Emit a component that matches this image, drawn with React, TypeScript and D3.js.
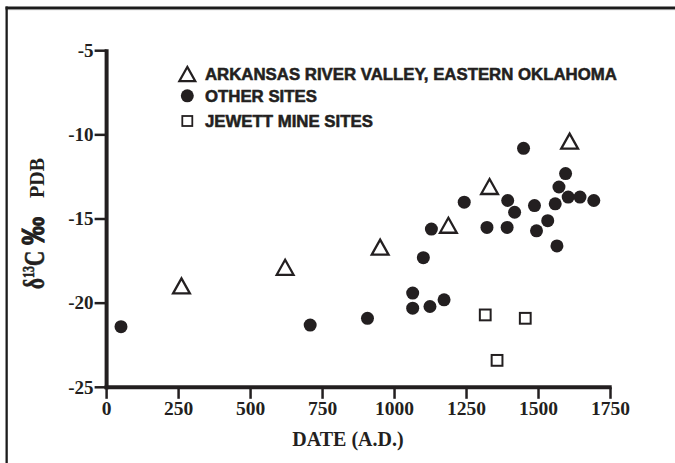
import { useRef, useEffect } from "react";
import * as d3 from "d3";

// Arkansas River Valley, Eastern Oklahoma (open triangles)
const arkansasDates = [260, 620, 950, 1187, 1330, 1608];
const arkansasValues = [-19.0, -17.9, -16.7, -15.4, -13.1, -10.4];

// Other sites (filled circles)
const otherDates = [
  50, 707, 906, 1063, 1063, 1123, 1172, 1100, 1128, 1242, 1321, 1391, 1393,
  1417, 1448, 1486, 1493, 1532, 1558, 1564, 1571, 1594, 1603, 1644, 1692,
];
const otherValues = [
  -21.4, -21.3, -20.9, -19.4, -20.3, -20.2, -19.8, -17.3, -15.6, -14.0, -15.5,
  -15.5, -13.9, -14.6, -10.8, -14.2, -15.7, -15.1, -14.1, -16.6, -13.1, -12.3,
  -13.7, -13.7, -13.9,
];

// Jewett Mine sites (open squares)
const jewettDates = [1315, 1356, 1454];
const jewettValues = [-20.7, -23.4, -20.9];

const xTicks = [0, 250, 500, 750, 1000, 1250, 1500, 1750];
const yTicks = [-5, -10, -15, -20, -25];

const legendLabels = [
  "ARKANSAS RIVER VALLEY, EASTERN OKLAHOMA",
  "OTHER SITES",
  "JEWETT MINE SITES",
];

export default function App() {
  const svgRef = useRef<SVGSVGElement | null>(null);

  useEffect(() => {
    const svg = d3.select(svgRef.current);
    svg.selectAll("*").remove();

    const width = 675;
    const height = 463;
    const ink = "#231f20";
    const serif = "'Liberation Serif', 'Times New Roman', serif";
    const sans = "'Liberation Sans', Arial, sans-serif";

    svg.attr("width", width).attr("height", height);

    const x = d3.scaleLinear().domain([0, 1750]).range([106.6, 610.5]);
    const y = d3.scaleLinear().domain([-25, -5]).range([387.3, 50.7]);

    // frame (top and left only)
    svg.append("rect").attr("x", 5.5).attr("y", 6.5).attr("width", width - 5.5).attr("height", 2.6).attr("fill", "#1c1c1c");
    svg.append("rect").attr("x", 5.5).attr("y", 9.1).attr("width", width - 5.5).attr("height", 1).attr("fill", "#8a8a8a");
    svg.append("rect").attr("x", 5.5).attr("y", 6.5).attr("width", 2.3).attr("height", height).attr("fill", "#1c1c1c");

    const triPath = (cx: number, cy: number, s = 1) =>
      `M${cx},${cy - 8 * s}L${cx + 8.4 * s},${cy + 7 * s}L${cx - 8.4 * s},${cy + 7 * s}Z`;

    // axes
    const axes = svg.append("g");
    axes
      .append("line")
      .attr("x1", x(0))
      .attr("x2", x(0))
      .attr("y1", y(-5) - 1.5)
      .attr("y2", y(-25) + 2)
      .attr("stroke", ink)
      .attr("stroke-width", 4);
    axes
      .append("line")
      .attr("x1", x(0) - 2)
      .attr("x2", x(1750) + 1.2)
      .attr("y1", y(-25))
      .attr("y2", y(-25))
      .attr("stroke", ink)
      .attr("stroke-width", 4);

    axes
      .selectAll(".ytick")
      .data(yTicks)
      .join("line")
      .attr("x1", x(0) - 12)
      .attr("x2", x(0))
      .attr("y1", (d) => y(d))
      .attr("y2", (d) => y(d))
      .attr("stroke", ink)
      .attr("stroke-width", 2.5);

    axes
      .selectAll(".xtick")
      .data(xTicks)
      .join("line")
      .attr("x1", (d) => x(d))
      .attr("x2", (d) => x(d))
      .attr("y1", y(-25))
      .attr("y2", y(-25) + 11.5)
      .attr("stroke", ink)
      .attr("stroke-width", 2.5);

    axes
      .selectAll(".ylabel")
      .data(yTicks)
      .join("text")
      .attr("x", x(0) - 13)
      .attr("y", (d) => y(d))
      .attr("dy", "0.33em")
      .attr("text-anchor", "end")
      .style("font-family", serif)
      .attr("font-size", "19px")
      .attr("font-weight", "bold")
      .attr("fill", ink)
      .text((d) => `${d}`);

    axes
      .selectAll(".xlabel")
      .data(xTicks)
      .join("text")
      .attr("x", (d) => x(d))
      .attr("y", 415)
      .attr("text-anchor", "middle")
      .style("font-family", serif)
      .attr("font-size", "19.5px")
      .attr("font-weight", "bold")
      .attr("fill", ink)
      .text((d) => `${d}`);

    // x title
    svg
      .append("text")
      .attr("x", 348)
      .attr("y", 446)
      .attr("text-anchor", "middle")
      .style("font-family", serif)
      .attr("font-size", "20px")
      .attr("font-weight", "bold")
      .attr("fill", ink)
      .text("DATE (A.D.)");

    // y title, rotated; big glyphs are stretched across
    const yTitle = svg.append("g").attr("fill", ink).style("font-family", serif).attr("font-weight", "bold");
    const big = yTitle
      .append("text")
      .attr("transform", "rotate(-90) translate(-289,44) scale(1,1.42)")
      .attr("font-size", "21px")
      .attr("stroke", ink)
      .attr("stroke-width", 0.4);
    big.append("tspan").text("δ");
    big.append("tspan").attr("font-size", "12px").attr("dy", "-7").text("13");
    big.append("tspan").attr("dy", "7").text("C");
    yTitle
      .append("text")
      .attr("transform", "rotate(-90) translate(-245,43.5) scale(1,1.1)")
      .style("font-family", sans)
      .attr("font-size", "28px")
      .attr("stroke", ink)
      .attr("stroke-width", 1)
      .text("‰");
    yTitle
      .append("text")
      .attr("transform", "rotate(-90) translate(-198,43.5)")
      .attr("font-size", "20px")
      .text("PDB");

    // data
    const plot = svg.append("g");

    plot
      .selectAll(".other")
      .data(otherDates)
      .join("circle")
      .attr("cx", (d) => x(d))
      .attr("cy", (_, i) => y(otherValues[i]))
      .attr("r", 6.5)
      .attr("fill", ink);

    plot
      .selectAll(".ark")
      .data(arkansasDates)
      .join("path")
      .attr("d", (d, i) => triPath(x(d), y(arkansasValues[i])))
      .attr("fill", "white")
      .attr("stroke", ink)
      .attr("stroke-width", 2.3)
      .attr("stroke-linejoin", "miter");

    plot
      .selectAll(".jewett")
      .data(jewettDates)
      .join("rect")
      .attr("x", (d) => x(d) - 5.4)
      .attr("y", (_, i) => y(jewettValues[i]) - 5.4)
      .attr("width", 10.8)
      .attr("height", 10.8)
      .attr("fill", "white")
      .attr("stroke", ink)
      .attr("stroke-width", 2);

    // legend
    const legendX = 187.3;
    const legendYs = [74, 95.8, 121];
    const legend = svg.append("g");
    legend.append("path").attr("d", triPath(legendX, legendYs[0] + 0.5, 0.95)).attr("fill", "white").attr("stroke", ink).attr("stroke-width", 2.2);
    legend.append("circle").attr("cx", legendX).attr("cy", legendYs[1]).attr("r", 6.5).attr("fill", ink);
    legend
      .append("rect")
      .attr("x", legendX - 5)
      .attr("y", legendYs[2] - 5)
      .attr("width", 10)
      .attr("height", 10)
      .attr("fill", "white")
      .attr("stroke", ink)
      .attr("stroke-width", 1.8);

    legend
      .selectAll(".legend-text")
      .data(legendLabels)
      .join("text")
      .attr("x", 205)
      .attr("y", (_, i) => legendYs[i])
      .attr("dy", "0.36em")
      .style("font-family", sans)
      .attr("font-size", "16.8px")
      .attr("font-weight", "bold")
      .attr("fill", ink)
      .attr("stroke", ink)
      .attr("stroke-width", 0.55)
      .text((d) => d);
  }, []);

  return (
    <svg
      ref={svgRef}
      style={{ position: "absolute", left: 0, top: 0, display: "block", background: "white" }}
    />
  );
}
